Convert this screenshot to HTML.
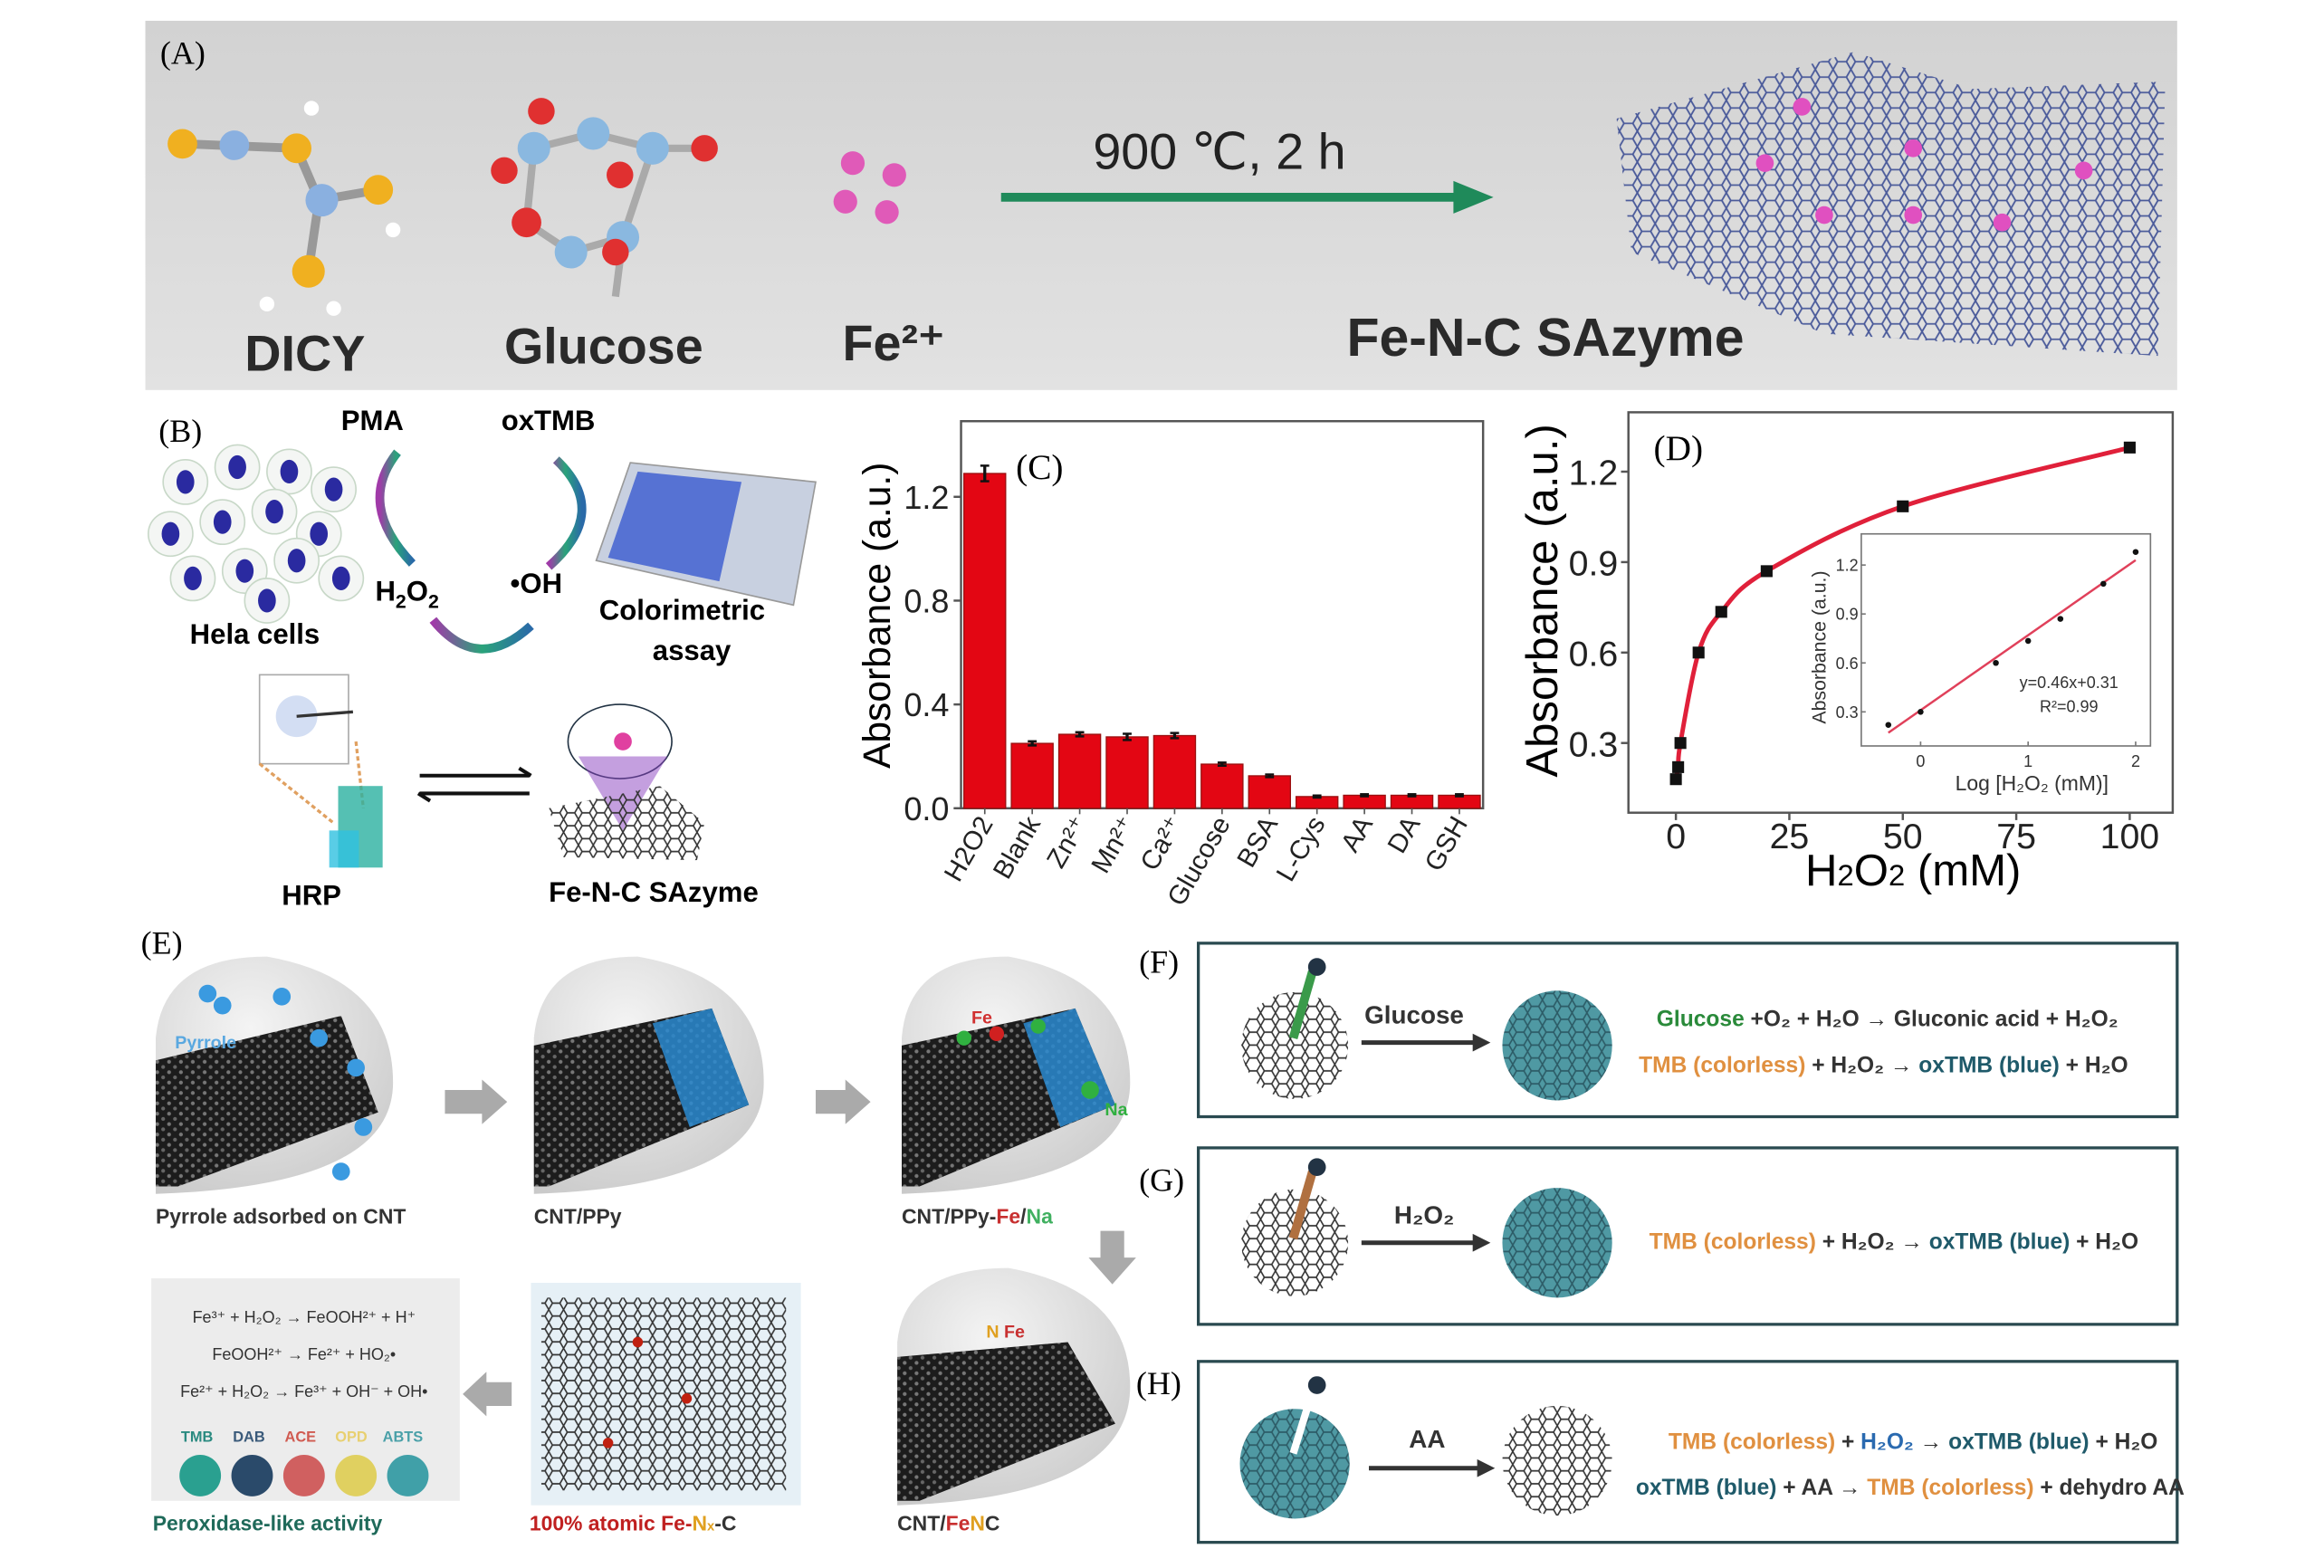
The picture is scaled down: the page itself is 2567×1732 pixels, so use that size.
<!DOCTYPE html>
<html><head><meta charset="utf-8"><style>
html,body{margin:0;padding:0;background:#fff;}
svg{display:block;font-family:"Liberation Sans",sans-serif;}
.serif{font-family:"Liberation Serif",serif;}
</style></head><body>
<svg id="fig" width="2567" height="1732" viewBox="0 0 1567 1057.3" preserveAspectRatio="none" xmlns="http://www.w3.org/2000/svg">
<defs>
 <pattern id="hex" width="12" height="10.4" patternUnits="userSpaceOnUse">
  <path d="M3 0 L9 0 L12 5.2 L9 10.4 L3 10.4 L0 5.2 Z" fill="none" stroke="#4a5a9a" stroke-width="1.1"/>
 </pattern>
 <pattern id="hexk" width="10" height="8.7" patternUnits="userSpaceOnUse">
  <path d="M2.5 0 L7.5 0 L10 4.35 L7.5 8.7 L2.5 8.7 L0 4.35 Z" fill="none" stroke="#333" stroke-width="1"/>
 </pattern>
 <pattern id="hexd" width="8" height="7" patternUnits="userSpaceOnUse">
  <rect width="8" height="7" fill="#1c1c1c"/><circle cx="2" cy="2" r="1.3" fill="#777"/><circle cx="6" cy="5.5" r="1.3" fill="#666"/>
 </pattern>
 <pattern id="hext" width="10" height="8.7" patternUnits="userSpaceOnUse">
  <rect width="10" height="8.7" fill="#4f99a3"/><path d="M2.5 0 L7.5 0 L10 4.35 L7.5 8.7 L2.5 8.7 L0 4.35 Z" fill="none" stroke="#2c5b66" stroke-width="1"/>
 </pattern>
 <linearGradient id="gray" x1="0" x2="0" y1="0" y2="1"><stop offset="0" stop-color="#d2d2d2"/><stop offset="1" stop-color="#e2e2e2"/></linearGradient>
 <radialGradient id="blob" cx="0.4" cy="0.3" r="0.8"><stop offset="0" stop-color="#f4f4f4"/><stop offset="1" stop-color="#c9c9c9"/></radialGradient>
 <linearGradient id="arcg" x1="0" x2="1"><stop offset="0" stop-color="#a03aa8"/><stop offset="0.5" stop-color="#2aa37a"/><stop offset="1" stop-color="#2a6aa8"/></linearGradient>
</defs>

<!-- Panel A -->
<g>
 <rect x="98" y="14" width="1370" height="249" fill="url(#gray)"/>
 <text class="serif" x="108" y="43" font-size="22">(A)</text>
 <g>
  <line x1="125" y1="97" x2="200" y2="100" stroke="#999" stroke-width="6"/>
  <line x1="200" y1="100" x2="215" y2="135" stroke="#999" stroke-width="6"/>
  <line x1="215" y1="135" x2="255" y2="128" stroke="#999" stroke-width="6"/>
  <line x1="215" y1="135" x2="208" y2="183" stroke="#999" stroke-width="6"/>
  <circle cx="123" cy="97" r="10" fill="#f0b020"/><circle cx="158" cy="98" r="10" fill="#8ab0e0"/>
  <circle cx="200" cy="100" r="10" fill="#f0b020"/><circle cx="217" cy="135" r="11" fill="#8ab0e0"/>
  <circle cx="255" cy="128" r="10" fill="#f0b020"/><circle cx="208" cy="183" r="11" fill="#f0b020"/>
  <circle cx="210" cy="73" r="5" fill="#fff"/><circle cx="265" cy="155" r="5" fill="#fff"/><circle cx="180" cy="205" r="5" fill="#fff"/><circle cx="225" cy="208" r="5" fill="#fff"/>
 </g>
 <g>
  <path d="M360 100 L400 90 L440 100 L470 100 M360 100 L355 150 L385 170 L420 160 L440 100 M420 160 L415 200" stroke="#aaa" stroke-width="5" fill="none"/>
  <circle cx="360" cy="100" r="11" fill="#8ab8e0"/><circle cx="400" cy="90" r="11" fill="#8ab8e0"/><circle cx="440" cy="100" r="11" fill="#8ab8e0"/>
  <circle cx="355" cy="150" r="10" fill="#e03030"/><circle cx="385" cy="170" r="11" fill="#8ab8e0"/><circle cx="420" cy="160" r="11" fill="#8ab8e0"/>
  <circle cx="418" cy="118" r="9" fill="#e03030"/><circle cx="475" cy="100" r="9" fill="#e03030"/><circle cx="415" cy="170" r="9" fill="#e03030"/>
  <circle cx="365" cy="75" r="9" fill="#e03030"/><circle cx="340" cy="115" r="9" fill="#e03030"/>
 </g>
 <g>
  <circle cx="575" cy="110" r="8" fill="#e05ab8"/><circle cx="603" cy="118" r="8" fill="#e05ab8"/><circle cx="570" cy="136" r="8" fill="#e05ab8"/><circle cx="598" cy="143" r="8" fill="#e05ab8"/>
 </g>
 <g>
  <line x1="675" y1="133" x2="985" y2="133" stroke="#1f8a5a" stroke-width="6"/>
  <polygon points="980,122 1007,133 980,144" fill="#1f8a5a"/>
 </g>
 <text x="737" y="114" font-size="34" fill="#222">900 ℃, 2 h</text>
 <g>
  <path d="M1090 80 L1250 35 L1330 60 L1460 55 L1455 240 L1230 225 L1100 170 Z" fill="url(#hex)"/>
  <g fill="#e050c0"><circle cx="1215" cy="72" r="6"/><circle cx="1290" cy="100" r="6"/><circle cx="1190" cy="110" r="6"/><circle cx="1230" cy="145" r="6"/><circle cx="1290" cy="145" r="6"/><circle cx="1350" cy="150" r="6"/><circle cx="1405" cy="115" r="6"/></g>
 </g>
 <g font-size="34" font-weight="bold" fill="#2a2a2a">
  <text x="165" y="250">DICY</text>
  <text x="340" y="245">Glucose</text>
  <text x="568" y="243">Fe²⁺</text>
  <text x="908" y="240" font-size="36">Fe-N-C SAzyme</text>
 </g>
</g>

<!-- Panel B -->
<g>
 <text class="serif" x="107" y="298" font-size="22">(B)</text>
 <g id="cells"></g>
 <text x="128" y="434" font-size="19" font-weight="bold">Hela cells</text>
 <text x="230" y="290" font-size="19" font-weight="bold">PMA</text>
 <text x="338" y="290" font-size="19" font-weight="bold">oxTMB</text>
 <text x="253" y="405" font-size="19" font-weight="bold">H<tspan font-size="13" dy="5">2</tspan><tspan dy="-5">O</tspan><tspan font-size="13" dy="5">2</tspan></text>
 <text x="344" y="400" font-size="19" font-weight="bold">•OH</text>
 <path d="M268 305 Q240 340 278 380" stroke="url(#arcg)" stroke-width="6" fill="none"/>
 <path d="M375 310 Q412 345 370 382" stroke="url(#arcg)" stroke-width="6" fill="none"/>
 <path d="M292 418 Q322 455 358 422" stroke="url(#arcg)" stroke-width="6" fill="none"/>
 <g>
  <polygon points="425,312 550,325 535,408 402,378" fill="#c8d0e0" stroke="#999"/>
  <polygon points="430,318 500,325 485,392 410,376" fill="#3a5ad0" opacity="0.8"/>
 </g>
 <text x="404" y="418" font-size="19" font-weight="bold">Colorimetric</text>
 <text x="440" y="445" font-size="19" font-weight="bold">assay</text>
 <g>
  <rect x="175" y="455" width="60" height="60" fill="none" stroke="#aaa"/>
  <circle cx="200" cy="483" r="14" fill="#c0d0ee" opacity="0.7"/>
  <line x1="200" y1="483" x2="238" y2="480" stroke="#333" stroke-width="2"/>
  <line x1="175" y1="515" x2="225" y2="555" stroke="#e0a060" stroke-dasharray="3 2" stroke-width="2"/>
  <line x1="240" y1="500" x2="245" y2="545" stroke="#e0a060" stroke-dasharray="3 2" stroke-width="2"/>
  <rect x="228" y="530" width="30" height="55" fill="#2ab0a0" opacity="0.8"/>
  <rect x="222" y="560" width="20" height="25" fill="#30c0e0" opacity="0.8"/>
 </g>
 <text x="190" y="610" font-size="19" font-weight="bold">HRP</text>
 <g stroke="#111" stroke-width="2.5">
  <line x1="283" y1="523" x2="357" y2="523"/><polyline points="350,518 358,523" fill="none"/>
  <line x1="283" y1="535" x2="357" y2="535"/><polyline points="290,540 282,535" fill="none"/>
 </g>
 <g>
  <ellipse cx="418" cy="500" rx="35" ry="25" fill="#fff" stroke="#234"/>
  <circle cx="420" cy="500" r="6" fill="#e040a0"/>
  <polygon points="390,510 450,510 420,560" fill="#8a40c0" opacity="0.5"/>
  <polygon points="370,545 445,530 475,555 470,580 380,578" fill="url(#hexk)"/>
 </g>
 <text x="370" y="608" font-size="19" font-weight="bold">Fe-N-C SAzyme</text>
</g>

<!-- Panel C -->
<g>
 <g id="chartC"></g>
 <text class="serif" x="685" y="323" font-size="24">(C)</text>
 <text transform="translate(600,415) rotate(-90)" text-anchor="middle" font-size="26">Absorbance (a.u.)</text>
</g>

<!-- Panel D -->
<g>
 <g id="chartD"></g>
 <text class="serif" x="1115" y="310" font-size="24">(D)</text>
 <text transform="translate(1050,405) rotate(-90)" text-anchor="middle" font-size="30">Absorbance (a.u.)</text>
 <text x="1290" y="597" text-anchor="middle" font-size="30">H<tspan font-size="20">2</tspan>O<tspan font-size="20">2</tspan> (mM)</text>
</g>

<!-- Panel E -->
<g>
 <text class="serif" x="95" y="643" font-size="22">(E)</text>
 <g>
  <path d="M180 645 Q265 660 265 730 Q265 800 105 805 L105 700 Q110 645 180 645 Z" fill="url(#blob)"/>
  <path d="M105 715 L230 685 L255 750 L120 800 L105 800 Z" fill="url(#hexd)"/>
  <g fill="#3a9ae0"><circle cx="140" cy="670" r="6"/><circle cx="150" cy="678" r="6"/><circle cx="190" cy="672" r="6"/><circle cx="215" cy="700" r="6"/><circle cx="240" cy="720" r="6"/><circle cx="245" cy="760" r="6"/><circle cx="230" cy="790" r="6"/></g>
  <text x="118" y="707" font-size="12" font-weight="bold" fill="#5aa8e0">Pyrrole</text>
 </g>
 <g>
  <path d="M430 645 Q515 660 515 730 Q515 800 360 805 L360 700 Q365 645 430 645 Z" fill="url(#blob)"/>
  <path d="M360 705 L480 680 L505 745 L370 800 L360 800 Z" fill="url(#hexd)"/>
  <path d="M440 690 L480 680 L505 745 L465 760 Z" fill="#2a8ad0" opacity="0.85"/>
 </g>
 <g>
  <path d="M680 645 Q762 660 762 730 Q762 800 608 805 L608 700 Q612 645 680 645 Z" fill="url(#blob)"/>
  <path d="M608 705 L725 680 L752 745 L620 800 L608 800 Z" fill="url(#hexd)"/>
  <path d="M690 690 L725 680 L752 745 L715 760 Z" fill="#2a8ad0" opacity="0.85"/>
  <circle cx="650" cy="700" r="5" fill="#30b040"/><circle cx="672" cy="697" r="5" fill="#d02020"/><circle cx="700" cy="692" r="5" fill="#30b040"/><circle cx="735" cy="735" r="6" fill="#30b040"/>
  <text x="655" y="690" font-size="12" font-weight="bold" fill="#d03030">Fe</text>
  <text x="745" y="752" font-size="12" font-weight="bold" fill="#30b040">Na</text>
 </g>
 <polygon points="300,735 325,735 325,728 342,743 325,758 325,751 300,751" fill="#aaa"/>
 <polygon points="550,735 570,735 570,728 587,743 570,758 570,751 550,751" fill="#aaa"/>
 <polygon points="742,830 758,830 758,848 766,848 750,866 734,848 742,848" fill="#aaa"/>
 <polygon points="345,932 328,932 328,925 312,940 328,955 328,948 345,948" fill="#aaa"/>
 <g font-size="14" font-weight="bold" fill="#333">
  <text x="105" y="825">Pyrrole adsorbed on CNT</text>
  <text x="360" y="825">CNT/PPy</text>
  <text x="608" y="825">CNT/PPy-<tspan fill="#c83030">Fe</tspan>/<tspan fill="#40b060">Na</tspan></text>
 </g>
 <g>
  <rect x="102" y="862" width="208" height="150" fill="#ececec"/>
  <g font-size="11" fill="#333" text-anchor="middle">
   <text x="205" y="892">Fe³⁺ + H₂O₂ → FeOOH²⁺ + H⁺</text>
   <text x="205" y="917">FeOOH²⁺ → Fe²⁺ + HO₂•</text>
   <text x="205" y="942">Fe²⁺ + H₂O₂ → Fe³⁺ + OH⁻ + OH•</text>
  </g>
  <g font-size="10" font-weight="bold">
   <text x="122" y="972" fill="#2a8a80">TMB</text><text x="157" y="972" fill="#3a5a7a">DAB</text><text x="192" y="972" fill="#d05a50">ACE</text><text x="226" y="972" fill="#e8d070">OPD</text><text x="258" y="972" fill="#4aa0a8">ABTS</text>
  </g>
  <circle cx="135" cy="995" r="14" fill="#2aa090"/><circle cx="170" cy="995" r="14" fill="#2a4a6a"/><circle cx="205" cy="995" r="14" fill="#d06060"/><circle cx="240" cy="995" r="14" fill="#e0d060"/><circle cx="275" cy="995" r="14" fill="#40a0a8"/>
 </g>
 <g>
  <rect x="358" y="865" width="182" height="150" fill="#e6f0f6"/>
  <rect x="365" y="875" width="165" height="130" fill="url(#hexk)"/>
  <circle cx="430" cy="905" r="3.5" fill="#c02010"/><circle cx="463" cy="943" r="3.5" fill="#c02010"/><circle cx="410" cy="973" r="3.5" fill="#c02010"/>
 </g>
 <g>
  <path d="M680 855 Q762 870 762 935 Q762 1010 605 1015 L605 905 Q610 855 680 855 Z" fill="url(#blob)"/>
  <path d="M605 915 L720 905 L752 960 L620 1012 L605 1012 Z" fill="url(#hexd)"/>
  <text x="665" y="902" font-size="12" font-weight="bold"><tspan fill="#e0a020">N</tspan> <tspan fill="#c83030">Fe</tspan></text>
 </g>
 <g font-size="14" font-weight="bold">
  <text x="103" y="1032" fill="#1f6a5a">Peroxidase-like activity</text>
  <text x="357" y="1032" fill="#c02020">100% atomic <tspan fill="#c02020">Fe-</tspan><tspan fill="#e0a020">N</tspan><tspan font-size="9" fill="#e0a020">x</tspan><tspan fill="#333">-C</tspan></text>
  <text x="605" y="1032" fill="#333">CNT/<tspan fill="#c83030">Fe</tspan><tspan fill="#e0a020">N</tspan>C</text>
 </g>
</g>

<!-- Panels F G H -->
<g>
 <text class="serif" x="768" y="656" font-size="22">(F)</text>
 <rect x="808" y="636" width="660" height="117" fill="#fff" stroke="#2a4a50" stroke-width="2"/>
 <circle cx="873" cy="705" r="36" fill="url(#hexk)"/>
 <path d="M885 655 L872 700" stroke="#3a9a4a" stroke-width="6"/><circle cx="888" cy="652" r="6" fill="#234"/>
 <text x="920" y="690" font-size="17" font-weight="bold" fill="#333">Glucose</text>
 <line x1="918" y1="703" x2="995" y2="703" stroke="#333" stroke-width="3"/><polygon points="993,697 1005,703 993,709" fill="#333"/>
 <circle cx="1050" cy="705" r="37" fill="url(#hext)"/>
 <text x="1117" y="692" font-size="15" font-weight="bold" fill="#333"><tspan fill="#2a8a3a">Glucose</tspan> +O₂ + H₂O → Gluconic acid + H₂O₂</text>
 <text x="1105" y="723" font-size="15" font-weight="bold" fill="#333"><tspan fill="#e09040">TMB (colorless)</tspan> + H₂O₂ → <tspan fill="#1f5a6a">oxTMB (blue)</tspan> + H₂O</text>
</g>
<g>
 <text class="serif" x="768" y="803" font-size="22">(G)</text>
 <rect x="808" y="774" width="660" height="119" fill="#fff" stroke="#2a4a50" stroke-width="2"/>
 <circle cx="873" cy="838" r="36" fill="url(#hexk)"/>
 <path d="M885 790 L872 835" stroke="#b07040" stroke-width="6"/><circle cx="888" cy="787" r="6" fill="#234"/>
 <text x="940" y="825" font-size="17" font-weight="bold" fill="#333">H₂O₂</text>
 <line x1="918" y1="838" x2="995" y2="838" stroke="#333" stroke-width="3"/><polygon points="993,832 1005,838 993,844" fill="#333"/>
 <circle cx="1050" cy="838" r="37" fill="url(#hext)"/>
 <text x="1112" y="842" font-size="15" font-weight="bold" fill="#333"><tspan fill="#e09040">TMB (colorless)</tspan> + H₂O₂ → <tspan fill="#1f5a6a">oxTMB (blue)</tspan> + H₂O</text>
</g>
<g>
 <text class="serif" x="766" y="940" font-size="22">(H)</text>
 <rect x="808" y="918" width="660" height="122" fill="#fff" stroke="#2a4a50" stroke-width="2"/>
 <circle cx="873" cy="987" r="37" fill="url(#hext)"/>
 <path d="M885 938 L872 980" stroke="#fff" stroke-width="5"/><circle cx="888" cy="934" r="6" fill="#234"/>
 <text x="950" y="976" font-size="17" font-weight="bold" fill="#333">AA</text>
 <line x1="923" y1="990" x2="998" y2="990" stroke="#333" stroke-width="3"/><polygon points="996,984 1008,990 996,996" fill="#333"/>
 <circle cx="1050" cy="985" r="37" fill="url(#hexk)"/>
 <text x="1125" y="977" font-size="15" font-weight="bold" fill="#333"><tspan fill="#e09040">TMB (colorless)</tspan> + <tspan fill="#2a6ab0">H₂O₂</tspan> → <tspan fill="#1f5a6a">oxTMB (blue)</tspan> + H₂O</text>
 <text x="1103" y="1008" font-size="15" font-weight="bold" fill="#333"><tspan fill="#1f5a6a">oxTMB (blue)</tspan> + AA → <tspan fill="#e09040">TMB (colorless)</tspan> + dehydro AA</text>
</g>
</svg>
<script>
// ---- Panel C data ----
const cCategories = ["H2O2","Blank","Zn²⁺","Mn²⁺","Ca²⁺","Glucose","BSA","L-Cys","AA","DA","GSH"];
const cValues = [1.29,0.25,0.285,0.275,0.28,0.17,0.125,0.045,0.05,0.05,0.05];
const cErrors = [0.03,0.008,0.008,0.012,0.01,0.006,0.005,0.004,0.004,0.004,0.004];
const cTicks = [0.0,0.4,0.8,1.2];
const cTickLabels = ["0.0","0.4","0.8","1.2"];
// ---- Panel D data ----
const dX = [0,0.5,1,5,10,20,50,100];
const dY = [0.18,0.22,0.30,0.60,0.735,0.87,1.085,1.28];
const dXTicks = [0,25,50,75,100];
const dYTicks = [0.3,0.6,0.9,1.2];
const dYTickLabels = ["0.3","0.6","0.9","1.2"];
const insetX = [-0.3,0,0.7,1,1.3,1.7,2];
const insetY = [0.22,0.30,0.60,0.735,0.87,1.085,1.28];
const insetFit = [0.46,0.31];
const insetXTicks = [0,1,2];
const insetYTicks = [0.3,0.6,0.9,1.2];

const NS="http://www.w3.org/2000/svg";
function mk(tag,attrs,parent,text){const e=document.createElementNS(NS,tag);for(const k in attrs)e.setAttribute(k,attrs[k]);if(text!==undefined)e.textContent=text;parent.appendChild(e);return e;}

// cells
const cellG=document.getElementById('cells');
[[125,325],[160,315],[195,318],[225,330],[115,360],[150,352],[185,345],[215,360],[130,390],[165,385],[200,378],[230,390],[180,405]].forEach(p=>{
 const c=mk('circle',{cx:p[0],cy:p[1],r:15,fill:'#f4f6f4',stroke:'#c8d8c8'},cellG);
 
 
 const n=mk('ellipse',{cx:p[0],cy:p[1],rx:6,ry:8,fill:'#2a2aa0'},cellG);
 
 
});

// Chart C
(function(){
 const g=document.getElementById('chartC');
 const L=648,R=1000,T=284,B=545;
 const yC=v=>B-v*175;
 const step=(R-L)/cCategories.length;
 const xC=i=>L+step*(i+0.5);
 const frame=mk('rect',{x:L,y:T,width:R-L,height:B-T,fill:'#fff',stroke:'#555','stroke-width':1.5},g);
 
 
 cTicks.forEach((t,i)=>{
  const tk=mk('line',{x1:L-5,x2:L,y1:yC(t),y2:yC(t),stroke:'#555','stroke-width':1.5},g);
  
  
  const lb=mk('text',{x:L-8,y:yC(t)+8,'text-anchor':'end','font-size':22,fill:'#222'},g,cTickLabels[i]);
  
  
 });
 cValues.forEach((v,i)=>{
  const b=mk('rect',{x:xC(i)-step*0.44,y:yC(v),width:step*0.88,height:B-yC(v),fill:'#e30613',stroke:'#9a1010','stroke-width':0.8},g);
  
  
  const e=mk('line',{x1:xC(i),x2:xC(i),y1:yC(v+cErrors[i]),y2:yC(v-cErrors[i]),stroke:'#111','stroke-width':2},g);
  
  
  mk('line',{x1:xC(i)-3,x2:xC(i)+3,y1:yC(v+cErrors[i]),y2:yC(v+cErrors[i]),stroke:'#111','stroke-width':1.5},g);
  mk('line',{x1:xC(i)-3,x2:xC(i)+3,y1:yC(v-cErrors[i]),y2:yC(v-cErrors[i]),stroke:'#111','stroke-width':1.5},g);
  const tk=mk('line',{x1:xC(i),x2:xC(i),y1:B,y2:B+4,stroke:'#555'},g);
  
  
  const lb=mk('text',{transform:`translate(${xC(i)+6},${B+10}) rotate(-60)`,'text-anchor':'end','font-size':18,fill:'#222'},g,cCategories[i]);
  
  
 });
})();

// Chart D
(function(){
 const g=document.getElementById('chartD');
 const L=1098,R=1465,T=278,B=548;
 const xD=v=>1130+v*3.06;
 const yD=v=>562-v*203.3;
 const frame=mk('rect',{x:L,y:T,width:R-L,height:B-T,fill:'#fff',stroke:'#555','stroke-width':1.5},g);
 
 
 dYTicks.forEach((t,i)=>{
  const tk=mk('line',{x1:L-5,x2:L,y1:yD(t),y2:yD(t),stroke:'#555','stroke-width':1.5},g);
  
  
  const lb=mk('text',{x:L-7,y:yD(t)+9,'text-anchor':'end','font-size':24,fill:'#222'},g,dYTickLabels[i]);
  
  
 });
 dXTicks.forEach(t=>{
  const tk=mk('line',{x1:xD(t),x2:xD(t),y1:B,y2:B+5,stroke:'#555','stroke-width':1.5},g);
  
  
  const lb=mk('text',{x:xD(t),y:B+24,'text-anchor':'middle','font-size':24,fill:'#222'},g,String(t));
  
  
 });
 const P=dX.map((x,i)=>[xD(x),yD(dY[i])]);
 let d=`M${P[0][0]},${P[0][1]}`;
 for(let i=0;i<P.length-1;i++){
  const p0=P[Math.max(0,i-1)],p1=P[i],p2=P[i+1],p3=P[Math.min(P.length-1,i+2)];
  const c1=[p1[0]+(p2[0]-p0[0])/6,p1[1]+(p2[1]-p0[1])/6];
  const c2=[p2[0]-(p3[0]-p1[0])/6,p2[1]-(p3[1]-p1[1])/6];
  d+=` C${c1[0]},${c1[1]} ${c2[0]},${c2[1]} ${p2[0]},${p2[1]}`;
 }
 const curve=mk('path',{d:d,fill:'none',stroke:'#e0203a','stroke-width':3},g);
 
 
 P.forEach(p=>{
  const m=mk('rect',{x:p[0]-4,y:p[1]-4,width:8,height:8,fill:'#111'},g);
  
  
 });
 // inset
 const IL=1255,IR=1450,IT=360,IB=503;
 const xI=v=>1295+v*72.5;
 const yI=v=>381+(1.2-v)*110;
 const inf=mk('rect',{x:IL,y:IT,width:IR-IL,height:IB-IT,fill:'#fff',stroke:'#777','stroke-width':1},g);
 
 
 insetYTicks.forEach(t=>{
  const lb=mk('text',{x:IL-2,y:yI(t)+4,'text-anchor':'end','font-size':11,fill:'#333'},g,t.toFixed(1));
  
  
  mk('line',{x1:IL,x2:IL+3,y1:yI(t),y2:yI(t),stroke:'#777'},g);
 });
 insetXTicks.forEach(t=>{
  const lb=mk('text',{x:xI(t),y:IB+14,'text-anchor':'middle','font-size':11,fill:'#333'},g,String(t));
  
  
  mk('line',{x1:xI(t),x2:xI(t),y1:IB,y2:IB-3,stroke:'#777'},g);
 });
 const x0=insetX[0],x1=insetX[insetX.length-1];
 const fl=mk('line',{x1:xI(x0),y1:yI(insetFit[0]*x0+insetFit[1]),x2:xI(x1),y2:yI(insetFit[0]*x1+insetFit[1]),stroke:'#e0405a','stroke-width':1.5},g);
 
 
 insetX.forEach((x,i)=>{
  const c=mk('circle',{cx:xI(x),cy:yI(insetY[i]),r:2,fill:'#111'},g);
  
  
 });
 const yt=mk('text',{transform:`translate(${IL-24},${(IT+IB)/2+5}) rotate(-90)`,'text-anchor':'middle','font-size':13,fill:'#333'},g,'Absorbance (a.u.)');
 
 
 const xt=mk('text',{x:1370,y:IB+30,'text-anchor':'middle','font-size':14,fill:'#333'},g,'Log [H₂O₂ (mM)]');
 
 
 const eq=mk('text',{x:1395,y:464,'text-anchor':'middle','font-size':11,fill:'#333'},g,'y=0.46x+0.31');
 
 
 const r2=mk('text',{x:1395,y:480,'text-anchor':'middle','font-size':11,fill:'#333'},g,'R²=0.99');
 
 
})();
</script>
</body></html>
